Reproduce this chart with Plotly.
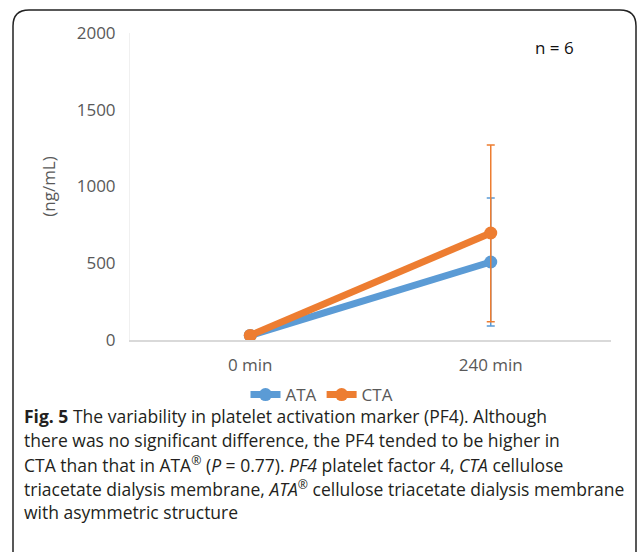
import plotly.graph_objects as go

categories = ["0 min", "240 min"]
ata_values = [30, 508]
ata_err_plus = [5, 417]
ata_err_minus = [5, 417]
cta_values = [30, 697]
cta_err_plus = [5, 573]
cta_err_minus = [5, 578]
y_ticks = [0, 500, 1000, 1500, 2000]

caption_lines = [
    "<b>Fig. 5</b> The variability in platelet activation marker (PF4). Although",
    "there was no significant difference, the PF4 tended to be higher in",
    "CTA than that in ATA<sup>®</sup> (<i>P</i> = 0.77). <i>PF4</i> platelet factor 4, <i>CTA</i> cellulose",
    "triacetate dialysis membrane, <i>ATA</i><sup>®</sup> cellulose triacetate dialysis membrane",
    "with asymmetric structure",
]

W, H = 637, 552
L, R, T, B = 130, 26, 33, 212
PW, PH = W - L - R, H - T - B

def px(x):
    return (x - L) / PW

def py(y):
    return (H - B - y) / PH

fig = go.Figure()
fig.add_trace(go.Scatter(
    x=categories, y=ata_values, name="ATA", mode="lines+markers",
    line=dict(color="#5B9BD5", width=7), marker=dict(size=13, color="#5B9BD5"),
    error_y=dict(type="data", array=ata_err_plus, arrayminus=ata_err_minus,
                 color="#5B9BD5", thickness=1.5, width=4),
))
fig.add_trace(go.Scatter(
    x=categories, y=cta_values, name="CTA", mode="lines+markers",
    line=dict(color="#ED7D31", width=7), marker=dict(size=13, color="#ED7D31"),
    error_y=dict(type="data", array=cta_err_plus, arrayminus=cta_err_minus,
                 color="#ED7D31", thickness=1.5, width=4),
))

path = (f"M {px(13)},{py(560)} L {px(13)},{py(26)} Q {px(13)},{py(10)} {px(29)},{py(10)} "
        f"L {px(620)},{py(10)} Q {px(636)},{py(10)} {px(636)},{py(26)} L {px(636)},{py(560)}")
fig.add_shape(type="path", path=path, xref="paper", yref="paper",
              line=dict(color="#222222", width=1.5))

line_y = [416, 440, 464, 488, 512]
for txt, yy in zip(caption_lines, line_y):
    fig.add_annotation(text=txt, xref="paper", yref="paper", x=px(22), y=py(yy),
                       xanchor="left", yanchor="middle", align="left", showarrow=False,
                       font=dict(family="Open Sans", size=17.5, color="#231f20"))
fig.add_annotation(text="n = 6", xref="paper", yref="paper", x=px(554), y=py(47),
                   xanchor="center", yanchor="middle", showarrow=False,
                   font=dict(family="Open Sans", size=17, color="#111111"))

fig.update_layout(
    width=W, height=H, margin=dict(l=L, r=R, t=T, b=B),
    paper_bgcolor="white", plot_bgcolor="white",
    font=dict(family="Open Sans", size=17, color="#595959"),
    showlegend=True,
    legend=dict(orientation="h", x=px(322), y=py(395), xanchor="center", yanchor="middle",
                font=dict(size=17, color="#595959"), itemwidth=30, tracegroupgap=0),
    xaxis=dict(type="category", range=[-0.5, 1.5], showline=True, linecolor="#D9D9D9",
               linewidth=1.5, ticks="", showgrid=False, fixedrange=True,
               ticklabelstandoff=9),
    yaxis=dict(range=[0, 2000], tickvals=y_ticks, showgrid=False, zeroline=False,
               showline=True, linecolor="#F0F0F0", linewidth=1, ticks="",
               ticklabelstandoff=10,
               title=dict(text="(ng/mL)", standoff=16, font=dict(size=17, color="#595959"))),
)

fig.write_html("out.html")
